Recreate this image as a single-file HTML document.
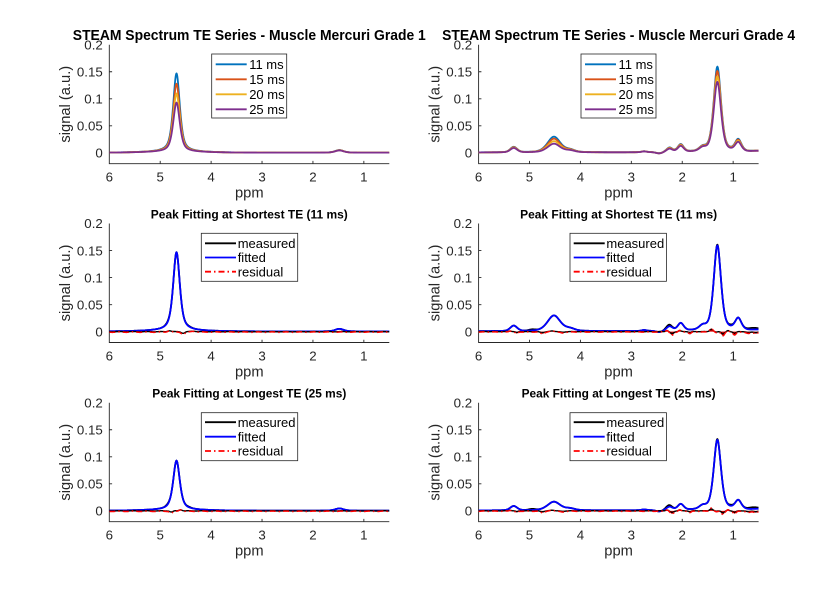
<!DOCTYPE html>
<html><head><meta charset="utf-8">
<style>
html,body{margin:0;padding:0;background:#fff;}
svg{display:block;font-family:"Liberation Sans",Arial,Helvetica,sans-serif;}
.ax{fill:none;stroke:#262626;stroke-width:0.9;}
.tk text{fill:#262626;font-size:13.3px;}
.yt text{text-anchor:end;}
.xt text{text-anchor:middle;}
.lab{fill:#262626;font-size:14.7px;text-anchor:middle;}
.t1{fill:#000;font-size:14.5px;font-weight:bold;text-anchor:middle;}
.t2{fill:#000;font-size:12.3px;font-weight:bold;text-anchor:middle;}
.lg rect{fill:#fff;stroke:#262626;stroke-width:0.8;}
.lg text{fill:#000;font-size:13px;}
.lg line{stroke-width:1.8;}
</style></head><body>
<svg id="s" width="838" height="596" viewBox="0 0 838 596" xmlns="http://www.w3.org/2000/svg">
<rect width="838" height="596" fill="#fff"/>
<defs><clipPath id="cp"><rect x="0" y="-2" width="280" height="121"/></clipPath></defs>

<!-- Panel 0: row1 left -->
<g transform="translate(109.3,44.7)">
 <path class="ax" d="M0,0V119H280M50.91,119v-2.8M101.82,119v-2.8M152.73,119v-2.8M203.64,119v-2.8M254.55,119v-2.8M0,27.05h2.8M0,54.09h2.8M0,81.14h2.8M0,108.18h2.8"/>
 <g id="d0" clip-path="url(#cp)"></g>
 <g class="tk yt"><text x="-6.5" y="4.7">0.2</text><text x="-6.5" y="31.75">0.15</text><text x="-6.5" y="58.8">0.1</text><text x="-6.5" y="85.85">0.05</text><text x="-6.5" y="112.9">0</text></g>
 <g class="tk xt"><text x="0" y="136.8">6</text><text x="50.91" y="136.8">5</text><text x="101.82" y="136.8">4</text><text x="152.73" y="136.8">3</text><text x="203.64" y="136.8">2</text><text x="254.55" y="136.8">1</text></g>
 <text class="lab" x="140" y="152.8">ppm</text>
 <text class="lab" transform="translate(-39.3,59.5) rotate(-90)">signal (a.u.)</text>
 <text class="t1" x="140" y="-4.7" textLength="353" lengthAdjust="spacingAndGlyphs">STEAM Spectrum TE Series - Muscle Mercuri Grade 1</text>
 <g class="lg"><rect x="102.4" y="9.3" width="75" height="64"/>
  <line x1="106.4" y1="19.6" x2="137.4" y2="19.6" stroke="#0072BD"/><text x="139.9" y="24.2">11 ms</text>
  <line x1="106.4" y1="34.6" x2="137.4" y2="34.6" stroke="#D95319"/><text x="139.9" y="39.2">15 ms</text>
  <line x1="106.4" y1="49.6" x2="137.4" y2="49.6" stroke="#EDB120"/><text x="139.9" y="54.2">20 ms</text>
  <line x1="106.4" y1="64.6" x2="137.4" y2="64.6" stroke="#7E2F8E"/><text x="139.9" y="69.2">25 ms</text>
 </g>
</g>

<!-- Panel 1: row1 right -->
<g transform="translate(478.6,44.7)">
 <path class="ax" d="M0,0V119H280M50.91,119v-2.8M101.82,119v-2.8M152.73,119v-2.8M203.64,119v-2.8M254.55,119v-2.8M0,27.05h2.8M0,54.09h2.8M0,81.14h2.8M0,108.18h2.8"/>
 <g id="d1" clip-path="url(#cp)"></g>
 <g class="tk yt"><text x="-6.5" y="4.7">0.2</text><text x="-6.5" y="31.75">0.15</text><text x="-6.5" y="58.8">0.1</text><text x="-6.5" y="85.85">0.05</text><text x="-6.5" y="112.9">0</text></g>
 <g class="tk xt"><text x="0" y="136.8">6</text><text x="50.91" y="136.8">5</text><text x="101.82" y="136.8">4</text><text x="152.73" y="136.8">3</text><text x="203.64" y="136.8">2</text><text x="254.55" y="136.8">1</text></g>
 <text class="lab" x="140" y="152.8">ppm</text>
 <text class="lab" transform="translate(-39.3,59.5) rotate(-90)">signal (a.u.)</text>
 <text class="t1" x="140" y="-4.7" textLength="353" lengthAdjust="spacingAndGlyphs">STEAM Spectrum TE Series - Muscle Mercuri Grade 4</text>
 <g class="lg"><rect x="102.4" y="9.3" width="75" height="64"/>
  <line x1="106.4" y1="19.6" x2="137.4" y2="19.6" stroke="#0072BD"/><text x="139.9" y="24.2">11 ms</text>
  <line x1="106.4" y1="34.6" x2="137.4" y2="34.6" stroke="#D95319"/><text x="139.9" y="39.2">15 ms</text>
  <line x1="106.4" y1="49.6" x2="137.4" y2="49.6" stroke="#EDB120"/><text x="139.9" y="54.2">20 ms</text>
  <line x1="106.4" y1="64.6" x2="137.4" y2="64.6" stroke="#7E2F8E"/><text x="139.9" y="69.2">25 ms</text>
 </g>
</g>

<!-- Panel 2: row2 left -->
<g transform="translate(109.3,223.5)">
 <path class="ax" d="M0,0V119H280M50.91,119v-2.8M101.82,119v-2.8M152.73,119v-2.8M203.64,119v-2.8M254.55,119v-2.8M0,27.05h2.8M0,54.09h2.8M0,81.14h2.8M0,108.18h2.8"/>
 <g id="d2" clip-path="url(#cp)"></g>
 <g class="tk yt"><text x="-6.5" y="4.7">0.2</text><text x="-6.5" y="31.75">0.15</text><text x="-6.5" y="58.8">0.1</text><text x="-6.5" y="85.85">0.05</text><text x="-6.5" y="112.9">0</text></g>
 <g class="tk xt"><text x="0" y="136.8">6</text><text x="50.91" y="136.8">5</text><text x="101.82" y="136.8">4</text><text x="152.73" y="136.8">3</text><text x="203.64" y="136.8">2</text><text x="254.55" y="136.8">1</text></g>
 <text class="lab" x="140" y="152.8">ppm</text>
 <text class="lab" transform="translate(-39.3,59.5) rotate(-90)">signal (a.u.)</text>
 <text class="t2" x="140" y="-5.2" textLength="197" lengthAdjust="spacingAndGlyphs">Peak Fitting at Shortest TE (11 ms)</text>
 <g class="lg"><rect x="92" y="9.8" width="96.4" height="48"/>
  <line x1="95.7" y1="19.8" x2="126.7" y2="19.8" stroke="#000"/><text x="128.4" y="24.4">measured</text>
  <line x1="95.7" y1="34" x2="126.7" y2="34" stroke="#0000FF"/><text x="128.4" y="38.6">fitted</text>
  <line x1="95.7" y1="48.2" x2="126.7" y2="48.2" stroke="#FF0000" stroke-dasharray="6,3,1.5,3"/><text x="128.4" y="52.8">residual</text>
 </g>
</g>

<!-- Panel 3: row2 right -->
<g transform="translate(478.6,223.5)">
 <path class="ax" d="M0,0V119H280M50.91,119v-2.8M101.82,119v-2.8M152.73,119v-2.8M203.64,119v-2.8M254.55,119v-2.8M0,27.05h2.8M0,54.09h2.8M0,81.14h2.8M0,108.18h2.8"/>
 <g id="d3" clip-path="url(#cp)"></g>
 <g class="tk yt"><text x="-6.5" y="4.7">0.2</text><text x="-6.5" y="31.75">0.15</text><text x="-6.5" y="58.8">0.1</text><text x="-6.5" y="85.85">0.05</text><text x="-6.5" y="112.9">0</text></g>
 <g class="tk xt"><text x="0" y="136.8">6</text><text x="50.91" y="136.8">5</text><text x="101.82" y="136.8">4</text><text x="152.73" y="136.8">3</text><text x="203.64" y="136.8">2</text><text x="254.55" y="136.8">1</text></g>
 <text class="lab" x="140" y="152.8">ppm</text>
 <text class="lab" transform="translate(-39.3,59.5) rotate(-90)">signal (a.u.)</text>
 <text class="t2" x="140" y="-5.2" textLength="197" lengthAdjust="spacingAndGlyphs">Peak Fitting at Shortest TE (11 ms)</text>
 <g class="lg"><rect x="91.4" y="9.8" width="96.4" height="48"/>
  <line x1="95.1" y1="19.8" x2="126.1" y2="19.8" stroke="#000"/><text x="127.8" y="24.4">measured</text>
  <line x1="95.1" y1="34" x2="126.1" y2="34" stroke="#0000FF"/><text x="127.8" y="38.6">fitted</text>
  <line x1="95.1" y1="48.2" x2="126.1" y2="48.2" stroke="#FF0000" stroke-dasharray="6,3,1.5,3"/><text x="127.8" y="52.8">residual</text>
 </g>
</g>

<!-- Panel 4: row3 left -->
<g transform="translate(109.3,402.7)">
 <path class="ax" d="M0,0V119H280M50.91,119v-2.8M101.82,119v-2.8M152.73,119v-2.8M203.64,119v-2.8M254.55,119v-2.8M0,27.05h2.8M0,54.09h2.8M0,81.14h2.8M0,108.18h2.8"/>
 <g id="d4" clip-path="url(#cp)"></g>
 <g class="tk yt"><text x="-6.5" y="4.7">0.2</text><text x="-6.5" y="31.75">0.15</text><text x="-6.5" y="58.8">0.1</text><text x="-6.5" y="85.85">0.05</text><text x="-6.5" y="112.9">0</text></g>
 <g class="tk xt"><text x="0" y="136.8">6</text><text x="50.91" y="136.8">5</text><text x="101.82" y="136.8">4</text><text x="152.73" y="136.8">3</text><text x="203.64" y="136.8">2</text><text x="254.55" y="136.8">1</text></g>
 <text class="lab" x="140" y="152.8">ppm</text>
 <text class="lab" transform="translate(-39.3,59.5) rotate(-90)">signal (a.u.)</text>
 <text class="t2" x="140" y="-5.4" textLength="194" lengthAdjust="spacingAndGlyphs">Peak Fitting at Longest TE (25 ms)</text>
 <g class="lg"><rect x="92" y="10" width="96.4" height="48"/>
  <line x1="95.7" y1="19.5" x2="126.7" y2="19.5" stroke="#000"/><text x="128.4" y="24.1">measured</text>
  <line x1="95.7" y1="34" x2="126.7" y2="34" stroke="#0000FF"/><text x="128.4" y="38.6">fitted</text>
  <line x1="95.7" y1="48.3" x2="126.7" y2="48.3" stroke="#FF0000" stroke-dasharray="6,3,1.5,3"/><text x="128.4" y="52.9">residual</text>
 </g>
</g>

<!-- Panel 5: row3 right -->
<g transform="translate(478.6,402.7)">
 <path class="ax" d="M0,0V119H280M50.91,119v-2.8M101.82,119v-2.8M152.73,119v-2.8M203.64,119v-2.8M254.55,119v-2.8M0,27.05h2.8M0,54.09h2.8M0,81.14h2.8M0,108.18h2.8"/>
 <g id="d5" clip-path="url(#cp)"></g>
 <g class="tk yt"><text x="-6.5" y="4.7">0.2</text><text x="-6.5" y="31.75">0.15</text><text x="-6.5" y="58.8">0.1</text><text x="-6.5" y="85.85">0.05</text><text x="-6.5" y="112.9">0</text></g>
 <g class="tk xt"><text x="0" y="136.8">6</text><text x="50.91" y="136.8">5</text><text x="101.82" y="136.8">4</text><text x="152.73" y="136.8">3</text><text x="203.64" y="136.8">2</text><text x="254.55" y="136.8">1</text></g>
 <text class="lab" x="140" y="152.8">ppm</text>
 <text class="lab" transform="translate(-39.3,59.5) rotate(-90)">signal (a.u.)</text>
 <text class="t2" x="140" y="-5.4" textLength="194" lengthAdjust="spacingAndGlyphs">Peak Fitting at Longest TE (25 ms)</text>
 <g class="lg"><rect x="91.4" y="10" width="96.4" height="48"/>
  <line x1="95.1" y1="19.5" x2="126.1" y2="19.5" stroke="#000"/><text x="127.8" y="24.1">measured</text>
  <line x1="95.1" y1="34" x2="126.1" y2="34" stroke="#0000FF"/><text x="127.8" y="38.6">fitted</text>
  <line x1="95.1" y1="48.3" x2="126.1" y2="48.3" stroke="#FF0000" stroke-dasharray="6,3,1.5,3"/><text x="127.8" y="52.9">residual</text>
 </g>
</g>
</svg>
<script>
(function(){
var NS="http://www.w3.org/2000/svg";
var W=280,H=119,LW=1.8;
function px(p){return (6-p)*W/5.5;}
function py(v){return (0.2-v)*H/0.22;}
function L(x,c,w){var d=(x-c)/(w/2);return 1/(1+d*d);}
function G(x,c,w){var d=(x-c)/(w/2);return Math.exp(-Math.LN2*d*d);}
function V(x,c,w,e){return e*L(x,c,w)+(1-e)*G(x,c,w);}
var T=[0,4/14,9/14,1];
function g1(x,k){
  var hw=[0.145,0.126,0.108,0.091][k];
  return hw*V(x,4.68,0.155,0.6)+0.0048*(1-0.15*T[k])*V(x,1.48,0.2,0.4)+0.0015*G(x,4.7,1.2)+0.0004;
}
var P4=[[5.31,0.16,0.3,0.010,0.008],[4.52,0.30,0.4,0.029,0.016],[4.2,0.22,0.3,0.004,0.003],[2.75,0.12,0.5,0.0018,0.0015],[2.25,0.14,0.4,0.008,0.006],[2.03,0.14,0.4,0.014,0.011],[1.6,0.16,0.4,0.007,0.006],[1.31,0.17,0.5,0.158,0.130],[0.9,0.15,0.5,0.022,0.017]];
function g4(x,k){
  var s=0.0008;
  for(var i=0;i<P4.length;i++){var p=P4[i];s+=(p[3]+(p[4]-p[3])*T[k])*V(x,p[0],p[1],p[2]);}
  s-=0.0025*G(x,2.45,0.15); s+=0.002*G(x,0.5,0.3);
  return s;
}
function path(f){
  var d='',N=700;
  for(var i=0;i<=N;i++){var x=6-5.5*i/N;d+=(i?'L':'M')+px(x).toFixed(2)+','+py(f(x)).toFixed(2);}
  return d;
}
function add(id,d,stroke,w,extra){
  var e=document.createElementNS(NS,'path');
  e.setAttribute('d',d);e.setAttribute('fill','none');e.setAttribute('stroke',stroke);
  e.setAttribute('stroke-width',w);e.setAttribute('stroke-linejoin','round');
  if(extra){for(var k in extra)e.setAttribute(k,extra[k]);}
  document.getElementById(id).appendChild(e);
}
function fillArea(id,f,color){
  var d='',N=700;
  for(var i=0;i<=N;i++){var x=6-5.5*i/N;d+=(i?'L':'M')+px(x).toFixed(2)+','+py(f(x)).toFixed(2);}
  d+='L'+px(0.5).toFixed(2)+','+py(0).toFixed(2)+'L'+px(6).toFixed(2)+','+py(0).toFixed(2)+'Z';
  var e=document.createElementNS(NS,'path');
  e.setAttribute('d',d);e.setAttribute('fill',color);e.setAttribute('stroke','none');
  document.getElementById(id).appendChild(e);
}
var C=['#0072BD','#D95319','#EDB120','#7E2F8E'];
for(var k=0;k<4;k++){
  (function(k){
    add('d0',path(function(x){return g1(x,k);}),C[k],LW);
    add('d1',path(function(x){return g4(x,k);}),C[k],LW);
  })(k);
}
function resL(x,k){
  if(k===0) return -0.0008+0.0025*G(x,4.82,0.08)-0.004*G(x,4.55,0.08)+0.0015*G(x,4.35,0.1)+0.0004*Math.sin(x*23);
  return -0.0008-0.003*G(x,4.78,0.07)+0.003*G(x,4.6,0.07)+0.0004*Math.sin(x*23);
}
function resR(x,s){
  return s*(0.002*G(x,5.38,0.06)-0.003*G(x,5.25,0.06)-0.003*G(x,4.75,0.1)+0.002*G(x,4.55,0.1)-0.002*G(x,4.35,0.1)
   +0.003*G(x,2.3,0.06)-0.006*G(x,2.2,0.08)+0.003*G(x,2.05,0.06)-0.003*G(x,1.85,0.06)+0.007*G(x,1.43,0.07)
   -0.0015*G(x,1.33,0.05)-0.007*G(x,1.2,0.07)+0.003*G(x,1.1,0.05)-0.0055*G(x,0.97,0.07)-0.003*G(x,0.7,0.1)-0.003*G(x,0.55,0.1))
   -0.0006+0.0003*Math.sin(x*29);
}
function mR(x){return 0.003*G(x,2.27,0.14)+0.002*G(x,1.05,0.1)+0.003*G(x,0.6,0.25)+0.002*G(x,4.95,0.15)+0.0015*G(x,1.32,0.06);}
function mL(x){return 0.0015*G(x,4.85,0.1)+0.001*G(x,4.45,0.15);}
[['d2',0],['d4',3]].forEach(function(a){
  var id=a[0],k=a[1];
  add(id,path(function(x){return g1(x,k)+mL(x);}),'#000',LW);
  add(id,path(function(x){return g1(x,k);}),'#0000FF',LW);
  add(id,path(function(x){return resL(x,k)*0.7+0.0006;}),'#000',1.4);
  add(id,path(function(x){return resL(x,k);}),'#FF0000',1.5,{'stroke-dasharray':'6,3,1.5,3'});
});
[['d3',0,1],['d5',3,0.85]].forEach(function(a){
  var id=a[0],k=a[1],s=a[2];
  add(id,path(function(x){return g4(x,k)+mR(x);}),'#000',LW);
  add(id,path(function(x){return g4(x,k);}),'#0000FF',LW);
  fillArea(id,function(x){return resR(x,s);},'#E00000');
  add(id,path(function(x){return resR(x,s)*0.6+0.0005;}),'#000',1.4);
  add(id,path(function(x){return resR(x,s);}),'#FF0000',1.5,{'stroke-dasharray':'6,3,1.5,3'});
});
})();
</script>
</body></html>
